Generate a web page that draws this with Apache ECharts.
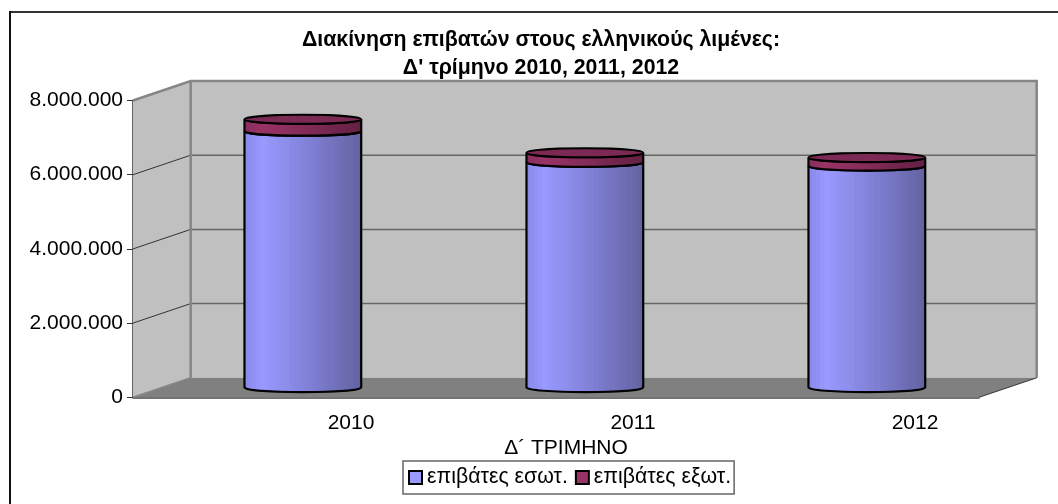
<!DOCTYPE html>
<html><head><meta charset="utf-8">
<style>html,body{margin:0;padding:0;background:#fff}#c{width:1058px;height:504px}</style>
<script src="https://cdn.jsdelivr.net/npm/echarts@6/dist/echarts.min.js"></script>
</head><body><div id="c"></div>
<script>
var years = ['2010', '2011', '2012'];
var domestic = [6910000, 6070000, 5970000];
var foreign = [320000, 260000, 230000];
var ticks = [0, 2000000, 4000000, 6000000, 8000000];
var seriesNames = ['επιβάτες εσωτ.', 'επιβάτες εξωτ.'];
var titleText = 'Διακίνηση επιβατών στους ελληνικούς λιμένες:\nΔ\' τρίμηνο 2010, 2011, 2012';
var axisTitle = 'Δ´ ΤΡΙΜΗΝΟ';

var DX = 57.7, DY = -19.5;
var BLUE = '#9999ff', RED = '#993366';

function banded(keys, n) {
  var stops = [];
  function at(t) {
    for (var k = 1; k < keys.length; k++) {
      if (t <= keys[k][0]) {
        var f = (t - keys[k - 1][0]) / (keys[k][0] - keys[k - 1][0]);
        return 'rgb(' + [0, 1, 2].map(function (c) {
          return Math.round(keys[k - 1][1][c] + f * (keys[k][1][c] - keys[k - 1][1][c]));
        }).join(',') + ')';
      }
    }
    return 'rgb(' + keys[keys.length - 1][1].join(',') + ')';
  }
  for (var i = 0; i < n; i++) {
    var col = at((i + 0.5) / n);
    stops.push({offset: i / n, color: col}, {offset: (i + 1) / n, color: col});
  }
  return {type: 'linear', x: 0, y: 0, x2: 1, y2: 0, colorStops: stops};
}
var blueFill = banded([[0, [136, 136, 232]], [0.16, [153, 153, 255]], [0.4, [138, 138, 230]],
  [0.7, [118, 118, 196]], [1, [98, 98, 160]]], 28);
var redFill = banded([[0, [136, 46, 92]], [0.16, [153, 51, 102]], [0.4, [138, 46, 92]],
  [0.7, [118, 39, 79]], [1, [98, 32, 66]]], 28);

function cylinder(lowVals, highVals, fill, withTop) {
  return function (params, api) {
    var i = params.dataIndex;
    var base = api.coord([i, lowVals[i]]);
    var top = api.coord([i, highVals[i]]);
    var band = api.size([1, 0])[0];
    var cx = base[0] + DX / 2, hw = band * 0.207, ry = 4.5;
    var yb = base[1] + DY / 2, yt = top[1] + DY / 2;
    var l = cx - hw, r = cx + hw;
    var d = 'M' + l + ' ' + yt + 'L' + l + ' ' + yb +
      'A' + hw + ' ' + ry + ' 0 0 0 ' + r + ' ' + yb +
      'L' + r + ' ' + yt + 'A' + hw + ' ' + ry + ' 0 0 1 ' + l + ' ' + yt + 'Z';
    var kids = [{type: 'path', shape: {pathData: d},
      style: {fill: fill, stroke: '#000', lineWidth: 2.2}}];
    if (withTop) {
      kids.push({type: 'ellipse', shape: {cx: cx, cy: yt, rx: hw, ry: ry},
        style: {fill: '#7c2a54', stroke: '#000', lineWidth: 2}});
    }
    return {type: 'group', children: kids};
  };
}

function frame(params, api) {
  var a = api.coord([0, 0]), band = api.size([1, 0])[0];
  var x0 = a[0] - band / 2, x1 = x0 + band * 3, y0 = a[1], y1 = api.coord([0, 8000000])[1];
  var poly = function (pts, fill) {
    return {type: 'polygon', shape: {points: pts}, style: {fill: fill}};
  };
  var kids = [
    poly([[x0, y1], [x0 + DX, y1 + DY], [x0 + DX, y0 + DY], [x0, y0]], '#c0c0c0'),
    poly([[x0 + DX, y1 + DY], [x1 + DX, y1 + DY], [x1 + DX, y0 + DY], [x0 + DX, y0 + DY]], '#c0c0c0'),
    poly([[x0, y0], [x0 + DX, y0 + DY], [x1 + DX, y0 + DY], [x1, y0]], '#808080')
  ];
  ticks.slice(1, -1).forEach(function (t) {
    var y = api.coord([0, t])[1];
    kids.push({type: 'polyline', shape: {points: [[x0, y], [x0 + DX, y + DY]]},
      style: {fill: null, stroke: '#333', lineWidth: 1}});
    kids.push({type: 'polyline', shape: {points: [[x0 + DX, y + DY], [x1 + DX, y + DY]]},
      style: {fill: null, stroke: '#666', lineWidth: 1.5}});
  });
  var edge = {fill: null, stroke: '#868686', lineWidth: 2.5};
  kids.push({type: 'polyline', shape: {points: [[x0, y1], [x0 + DX, y1 + DY], [x1 + DX, y1 + DY], [x1 + DX, y0 + DY]]}, style: edge});
  kids.push({type: 'polyline', shape: {points: [[x0 + DX, y1 + DY], [x0 + DX, y0 + DY]]}, style: edge});
  kids.push({type: 'polyline', shape: {points: [[x0, y0], [x0 + DX, y0 + DY]]}, style: {fill: null, stroke: '#868686', lineWidth: 1.5}});
  kids.push({type: 'polyline', shape: {points: [[x1, y0], [x1 + DX, y0 + DY]]}, style: {fill: null, stroke: '#333', lineWidth: 1}});
  return {type: 'group', children: kids};
}

var tops = domestic.map(function (v, i) { return v + foreign[i]; });
var zeros = domestic.map(function () { return 0; });

var font = '"Liberation Sans", Arial, sans-serif';
var chart = echarts.init(document.getElementById('c'), null, {renderer: 'canvas'});
chart.setOption({
  animation: false,
  backgroundColor: '#fff',
  textStyle: {fontFamily: font},
  graphic: [
    {type: 'line', silent: true, shape: {x1: 10, y1: 12, x2: 1058, y2: 12}, style: {stroke: '#333', lineWidth: 2}},
    {type: 'line', silent: true, shape: {x1: 10, y1: 11, x2: 10, y2: 504}, style: {stroke: '#111', lineWidth: 2}}
  ],
  title: {text: titleText, left: 536, top: 21, textAlign: 'center',
    textStyle: {fontFamily: font, fontSize: 21.3, fontWeight: 'bold', color: '#000', lineHeight: 28}},
  legend: {left: 403, top: 461, padding: [6, 3, 6, 5], itemGap: 7, itemWidth: 13, itemHeight: 13,
    borderColor: '#666', borderWidth: 1.5, backgroundColor: '#fff', selectedMode: false,
    textStyle: {fontFamily: font, fontSize: 21.3, color: '#000'},
    data: [{name: seriesNames[0], icon: 'rect', itemStyle: {color: BLUE, borderColor: '#000', borderWidth: 2}},
           {name: seriesNames[1], icon: 'rect', itemStyle: {color: RED, borderColor: '#000', borderWidth: 2}}]},
  grid: {left: 133, right: 79, top: 100.5, bottom: 106.7},
  xAxis: {type: 'category', data: years, boundaryGap: true,
    axisLine: {show: true, lineStyle: {color: '#444', width: 1.5}}, axisTick: {show: false},
    axisLabel: {fontFamily: font, fontSize: 21, color: '#000', margin: 15, padding: [0, 0, 0, 154]},
    name: axisTitle, nameLocation: 'middle', nameGap: 48,
    nameTextStyle: {fontFamily: font, fontSize: 21, color: '#000', padding: [0, 0, 0, 20], verticalAlign: 'middle'}},
  yAxis: {type: 'value', min: 0, max: 8000000, interval: 2000000,
    axisLine: {show: true, lineStyle: {color: '#333', width: 1.5}},
    axisTick: {show: true, length: 6, lineStyle: {color: '#333'}},
    splitLine: {show: false},
    axisLabel: {fontFamily: font, fontSize: 21, color: '#000', margin: 10,
      formatter: function (v) { return String(v).replace(/\B(?=(\d{3})+$)/g, '.'); }}},
  series: [
    {type: 'custom', name: '_frame', silent: true, z: 1, coordinateSystem: 'cartesian2d',
      data: [[0, 0]], renderItem: frame, encode: {x: 0, y: 1}},
    {type: 'custom', name: seriesNames[0], z: 2, coordinateSystem: 'cartesian2d',
      itemStyle: {color: BLUE},
      data: years.map(function (y, i) { return [i, domestic[i]]; }),
      encode: {x: 0, y: 1}, renderItem: cylinder(zeros, domestic, blueFill, false)},
    {type: 'custom', name: seriesNames[1], z: 3, coordinateSystem: 'cartesian2d',
      itemStyle: {color: RED},
      data: years.map(function (y, i) { return [i, tops[i]]; }),
      encode: {x: 0, y: 1}, renderItem: cylinder(domestic, tops, redFill, true)}
  ]
});
</script></body></html>
